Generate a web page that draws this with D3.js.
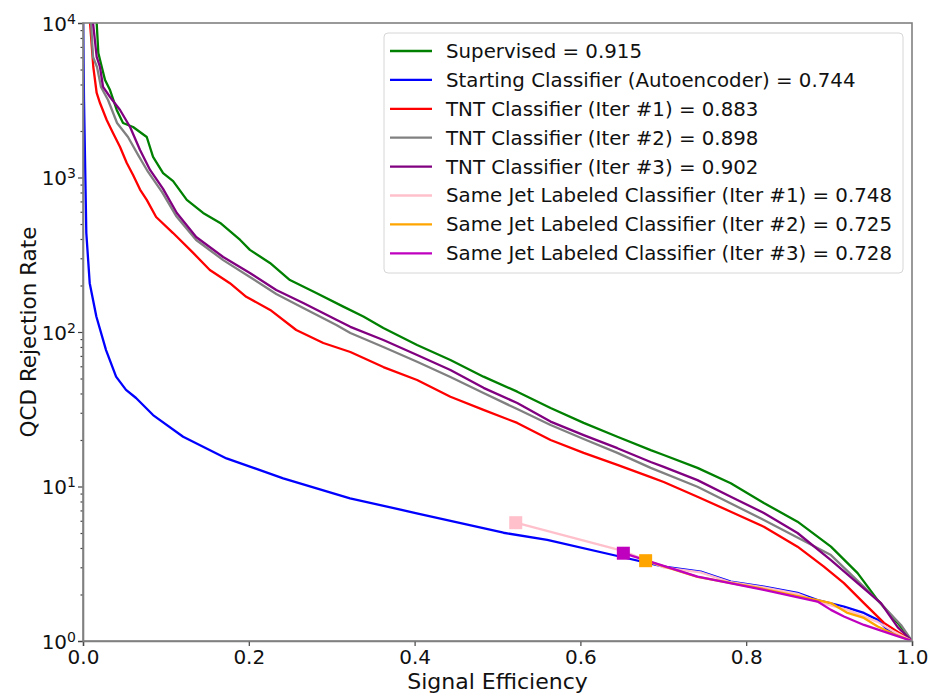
<!DOCTYPE html>
<html>
<head>
<meta charset="utf-8">
<script src="https://cdn.jsdelivr.net/npm/d3@7"></script>
<style>
  body { margin: 0; background: #fff; }
  text { font-family: "DejaVu Sans", sans-serif; fill: #111; }
</style>
</head>
<body>
<div id="chart"></div>
<script>
// DATA (signal efficiency, QCD rejection rate)
const supervised = [
  [0.0165, 10000], [0.0185, 6390], [0.0226, 5210], [0.0266, 4270], [0.0326, 3680],
  [0.0407, 2735], [0.0483, 2254], [0.0604, 2123], [0.0769, 1829], [0.0845, 1358],
  [0.0966, 1069], [0.1087, 948], [0.1252, 716], [0.1449, 590], [0.1655, 508],
  [0.1896, 394], [0.2013, 340], [0.2255, 280], [0.2496, 217], [0.2814, 179],
  [0.3140, 146], [0.3382, 126], [0.3623, 106], [0.4030, 82.4], [0.4432, 65.9],
  [0.4831, 51.4], [0.5238, 41.1], [0.5640, 32.2], [0.6039, 25.8], [0.6446, 21.0],
  [0.6848, 17.2], [0.7005, 16.0], [0.7412, 13.2], [0.7814, 10.5], [0.8213, 7.82],
  [0.8619, 5.92], [0.9022, 4.08], [0.9344, 2.75], [0.9586, 1.84], [0.9827, 1.31], [1.0, 1]
];
const starting = [
  [0.0002, 10000], [0.0012, 3175], [0.0040, 437], [0.0081, 207], [0.0161, 126],
  [0.0278, 76.4], [0.0399, 51.4], [0.0519, 42.2], [0.0640, 37.4], [0.0845, 29.0],
  [0.1208, 21.0], [0.1731, 15.2], [0.2415, 11.3], [0.3221, 8.39], [0.4026, 6.71],
  [0.5072, 5.02], [0.5600, 4.51], [0.6486, 3.51], [0.7005, 3.03], [0.7452, 2.81],
  [0.7814, 2.42], [0.8213, 2.25], [0.8619, 2.05], [0.8861, 1.84], [0.9179, 1.67],
  [0.9420, 1.52], [0.9586, 1.37], [0.9707, 1.18], [1.0, 1]
];
const tnt1 = [
  [0.0085, 10000], [0.0124, 5210], [0.0165, 3524], [0.0205, 3034], [0.0286, 2355],
  [0.0362, 1941], [0.0447, 1575], [0.0528, 1241], [0.0604, 1038], [0.0688, 835],
  [0.0769, 716], [0.0882, 555], [0.1087, 437], [0.1329, 325], [0.1530, 252],
  [0.1772, 207], [0.1969, 169], [0.2258, 139], [0.2572, 103], [0.2899, 84.9],
  [0.3225, 74.2], [0.3623, 59.3], [0.4030, 48.9], [0.4432, 38.1], [0.4831, 31.3],
  [0.5238, 25.8], [0.5640, 20.0], [0.6039, 16.5], [0.6446, 13.8], [0.6848, 11.5],
  [0.7005, 10.7], [0.7412, 8.59], [0.7814, 6.87], [0.8213, 5.49], [0.8619, 4.08],
  [0.8937, 3.03], [0.9179, 2.37], [0.9420, 1.76], [0.9662, 1.31], [1.0, 1]
];
const tnt2 = [
  [0.0097, 10000], [0.0121, 6026], [0.0169, 5190], [0.0217, 3855], [0.0302, 3175],
  [0.0411, 2254], [0.0543, 1829], [0.0664, 1400], [0.0785, 1086], [0.0954, 805],
  [0.1123, 564], [0.1365, 394], [0.1691, 292], [0.2013, 227], [0.2331, 176],
  [0.2657, 143], [0.3056, 111], [0.3225, 98.6], [0.3623, 80.0], [0.4030, 64.2],
  [0.4432, 51.1], [0.4831, 40.3], [0.5238, 31.7], [0.5640, 25.0], [0.6039, 20.3],
  [0.6446, 16.5], [0.6848, 13.2], [0.7412, 9.97], [0.8213, 6.07], [0.9022, 3.60],
  [0.9420, 2.24], [0.9662, 1.66], [0.9867, 1.27], [1.0, 1]
];
const tnt3 = [
  [0.0121, 10000], [0.0165, 6026], [0.0205, 5190], [0.0242, 3855], [0.0326, 3320],
  [0.0447, 2735], [0.0568, 2123], [0.0688, 1507], [0.0809, 1119], [0.0966, 844],
  [0.1132, 589], [0.1365, 412], [0.1691, 306], [0.2013, 241], [0.2331, 187],
  [0.2657, 154], [0.3056, 120], [0.3225, 108], [0.3623, 88.7], [0.4030, 71.0],
  [0.4432, 56.8], [0.4831, 43.5], [0.5238, 34.7], [0.5640, 26.3], [0.6039, 21.5],
  [0.6446, 17.7], [0.6848, 14.4], [0.7005, 13.4], [0.7412, 11.0], [0.7814, 8.59],
  [0.8213, 6.74], [0.8619, 5.00], [0.9022, 3.34], [0.9344, 2.37], [0.9626, 1.76],
  [0.9707, 1.52], [0.9827, 1.23], [1.0, 1]
];
const sameJet1 = [
  [0.522, 5.83], [0.651, 3.83], [0.700, 3.0], [0.745, 2.78], [0.781, 2.40],
  [0.821, 2.22], [0.862, 2.02], [0.886, 1.80], [0.922, 1.59], [0.9586, 1.33],
  [0.978, 1.15], [1.0, 1]
];
const sameJet2 = [
  [0.6787, 3.31], [0.7412, 2.60], [0.8213, 2.17], [0.886, 1.84], [0.9022, 1.76],
  [0.9223, 1.52], [0.942, 1.41], [0.9586, 1.24], [0.978, 1.11], [1.0, 1]
];
const sameJet3 = [
  [0.6518, 3.70], [0.7412, 2.61], [0.8213, 2.14], [0.8861, 1.80], [0.9022, 1.59],
  [0.9179, 1.44], [0.9420, 1.27], [0.9707, 1.13], [1.0, 1]
];

const seriesNames = [
  "Supervised = 0.915",
  "Starting Classifier (Autoencoder) = 0.744",
  "TNT Classifier (Iter #1) = 0.883",
  "TNT Classifier (Iter #2) = 0.898",
  "TNT Classifier (Iter #3) = 0.902",
  "Same Jet Labeled Classifier (Iter #1) = 0.748",
  "Same Jet Labeled Classifier (Iter #2) = 0.725",
  "Same Jet Labeled Classifier (Iter #3) = 0.728"
];
const seriesColors = ["green", "blue", "red", "gray", "purple", "pink", "orange", "#bf00bf"];
const seriesData = [supervised, starting, tnt1, tnt2, tnt3, sameJet1, sameJet2, sameJet3];
const markerSeries = [5, 6, 7]; // square marker at first point

const xTicks = [0, 0.2, 0.4, 0.6, 0.8, 1.0];
const yTicks = [1, 10, 100, 1000, 10000];

// LAYOUT
const W = 928, H = 695;
const margin = { top: 23, right: 16, bottom: 54, left: 83 };
const width = W - margin.left - margin.right;
const height = H - margin.top - margin.bottom;

const svg = d3.select("#chart").append("svg")
  .attr("width", W).attr("height", H);

const g = svg.append("g")
  .attr("transform", `translate(${margin.left},${margin.top})`);

const x = d3.scaleLinear().domain([0, 1]).range([0, width]);
const y = d3.scaleLog().domain([1, 10000]).range([height, 0]);

// clip
svg.append("defs").append("clipPath").attr("id", "clip")
  .append("rect").attr("width", width).attr("height", height);

// lines
const line = d3.line().x(d => x(d[0])).y(d => y(d[1]));
const plot = g.append("g").attr("clip-path", "url(#clip)");
seriesData.forEach((data, i) => {
  plot.append("path")
    .datum(data)
    .attr("fill", "none")
    .attr("stroke", seriesColors[i])
    .attr("stroke-width", 2.3)
    .attr("stroke-linejoin", "round")
    .attr("d", line);
});
markerSeries.forEach(i => {
  const p = seriesData[i][0];
  g.append("rect")
    .attr("x", x(p[0]) - 6.5).attr("y", y(p[1]) - 6.5)
    .attr("width", 13).attr("height", 13)
    .attr("fill", seriesColors[i]);
});

// axes
const xAxis = g.append("g")
  .attr("transform", `translate(0,${height})`)
  .call(d3.axisBottom(x).tickValues(xTicks).tickFormat(d3.format(".1f")).tickSize(5).tickPadding(4));
xAxis.selectAll("text").style("font-size", "20px");

const minor = [];
for (let e = 0; e < 4; e++) for (let k = 2; k < 10; k++) minor.push(k * Math.pow(10, e));
g.append("g")
  .call(d3.axisLeft(y).tickValues(minor).tickSize(2.5).tickFormat(""))
  .call(a => a.select(".domain").remove());

const yAxis = g.append("g")
  .call(d3.axisLeft(y).tickValues(yTicks).tickSize(5).tickPadding(5).tickFormat(""));
yAxis.selectAll(".tick").append("text")
  .attr("x", -7).attr("dy", "0.35em")
  .attr("text-anchor", "end")
  .style("font-size", "20px")
  .attr("fill", "#111")
  .each(function(d) {
    const t = d3.select(this);
    t.append("tspan").text("10");
    t.append("tspan").attr("dy", "-0.5em").style("font-size", "14px").text(Math.round(Math.log10(d)));
  });

svg.selectAll(".domain").attr("stroke", "#808080").attr("stroke-width", 1.6);
svg.selectAll(".tick line").attr("stroke", "#444").attr("stroke-width", 1.2);

// frame (top/right spines)
g.append("rect")
  .attr("width", width).attr("height", height)
  .attr("fill", "none").attr("stroke", "#808080").attr("stroke-width", 1.6);

// axis labels
svg.append("text")
  .attr("x", margin.left + width / 2).attr("y", H - 6)
  .attr("text-anchor", "middle").style("font-size", "22px")
  .text("Signal Efficiency");
svg.append("text")
  .attr("transform", `translate(28,${margin.top + height / 2}) rotate(-90)`)
  .attr("text-anchor", "middle").attr("dy", "0.35em").style("font-size", "21.5px")
  .text("QCD Rejection Rate");

// legend
const legX = 384, legY = 33, legW = 519, rowH = 28.9;
const legend = svg.append("g");
legend.append("rect")
  .attr("x", legX).attr("y", legY)
  .attr("width", legW).attr("height", 240)
  .attr("rx", 4)
  .attr("fill", "#fff").attr("fill-opacity", 0.85)
  .attr("stroke", "#d6d6d6").attr("stroke-width", 1);
seriesNames.forEach((name, i) => {
  const cy = legY + 18 + i * rowH;
  legend.append("line")
    .attr("x1", legX + 6).attr("x2", legX + 48)
    .attr("y1", cy).attr("y2", cy)
    .attr("stroke", seriesColors[i]).attr("stroke-width", 2.3);
  legend.append("text")
    .attr("x", legX + 62).attr("y", cy).attr("dy", "0.35em")
    .style("font-size", "19.8px")
    .text(name);
});
</script>
</body>
</html>
